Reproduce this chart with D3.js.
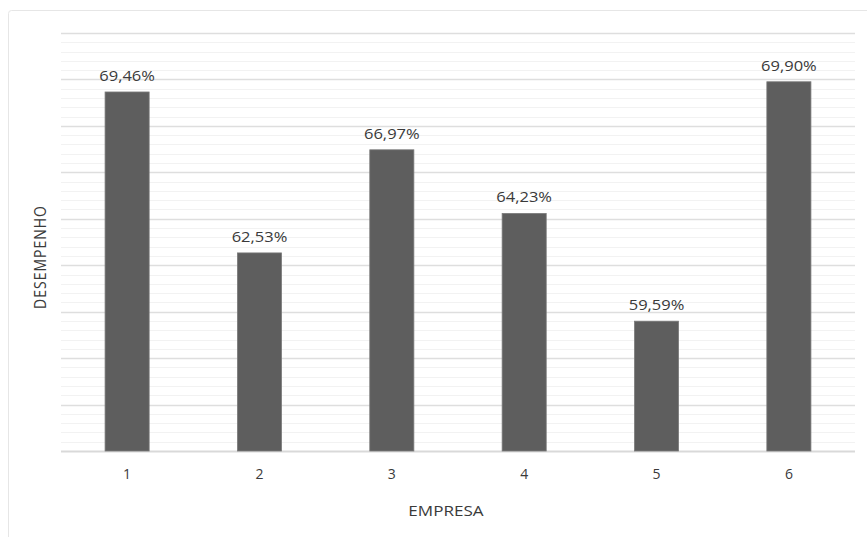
<!DOCTYPE html>
<html><head><meta charset="utf-8">
<script src="https://cdn.jsdelivr.net/npm/d3@7"></script>
<style>body{margin:0;background:#fff}svg{display:block}text{font-family:"Open Sans",sans-serif;fill:#3a3a3a}</style>
</head><body><svg id="c" width="867" height="537"></svg>
<script>
const categories = ["1","2","3","4","5","6"];
const values = [69.46, 62.53, 66.97, 64.23, 59.59, 69.90];
const labels = ["69,46%","62,53%","66,97%","64,23%","59,59%","69,90%"];
const yDomain = [54, 72];
const majorStep = 2, minorStep = 0.4;

const svg = d3.select("#c");
const m = {l:61, r:12, t:33, b:86};
const W = 867, H = 537;
svg.append("rect").attr("x",8.5).attr("y",10.5).attr("width",900).attr("height",600)
  .attr("fill","#fff").attr("stroke","#e6e6e6").attr("rx",3);

const x = d3.scaleBand().domain(categories).range([m.l, W - m.r]).paddingInner(0.667).paddingOuter(0.333);
const y = d3.scaleLinear().domain(yDomain).range([H - m.b, m.t]);

const minorTicks = d3.range(yDomain[0], yDomain[1] + 1e-9, minorStep);
const majorTicks = d3.range(yDomain[0], yDomain[1] + 1e-9, majorStep);
const g = svg.append("g");
g.selectAll(".mi").data(minorTicks).join("line")
  .attr("x1", m.l).attr("x2", W - m.r)
  .attr("y1", d => Math.round(y(d)) + 0.5).attr("y2", d => Math.round(y(d)) + 0.5)
  .attr("stroke", "#f2f2f2").attr("stroke-width", 1);
g.selectAll(".ma").data(majorTicks).join("line")
  .attr("x1", m.l).attr("x2", W - m.r)
  .attr("y1", d => Math.round(y(d)) + 0.5).attr("y2", d => Math.round(y(d)) + 0.5)
  .attr("stroke", d => d === yDomain[0] ? "#d9d9d9" : "#dedede").attr("stroke-width", d => d === yDomain[0] ? 2 : 1.3);

svg.selectAll(".bar").data(values).join("rect")
  .attr("x", (d,i) => x(categories[i])).attr("width", x.bandwidth())
  .attr("y", d => y(d)).attr("height", d => y(yDomain[0]) - y(d))
  .attr("fill", "#5e5e5e").attr("stroke", "#7a7a7a").attr("stroke-width", 0.8);

svg.selectAll(".lbl").data(values).join("text")
  .attr("transform", (d,i) => `translate(${x(categories[i]) + x.bandwidth()/2},${y(d) - 11}) scale(1.18,1)`)
  .attr("text-anchor","middle").attr("font-size", 14)
  .text((d,i) => labels[i]);

const xa = svg.append("g").attr("transform", `translate(0,${y(yDomain[0])})`)
  .call(d3.axisBottom(x).tickSize(0).tickPadding(18));
xa.select(".domain").remove();
xa.selectAll("text").attr("font-size", 14).style("font-family","'Open Sans',sans-serif").attr("fill","#3a3a3a");

svg.append("text").attr("transform", "translate(446,516) scale(1.22,1)")
  .attr("text-anchor","middle").attr("font-size", 14).text("EMPRESA");
svg.append("text").attr("transform", `translate(46,257) rotate(-90) scale(1,1.18)`)
  .attr("text-anchor","middle").attr("font-size", 14).attr("letter-spacing", 1).text("DESEMPENHO");
</script></body></html>
